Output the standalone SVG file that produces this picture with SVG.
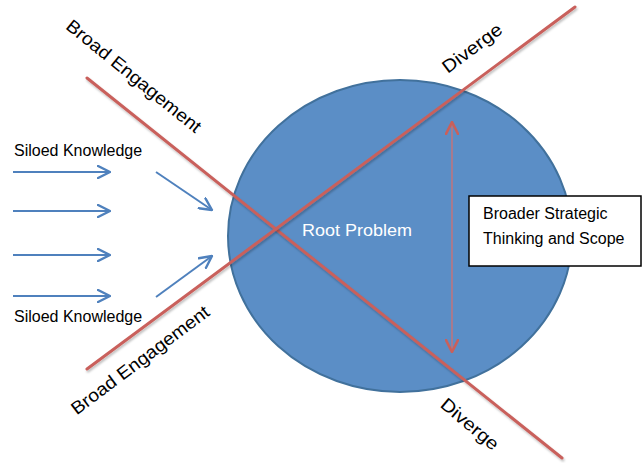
<svg xmlns="http://www.w3.org/2000/svg" width="642" height="463" viewBox="0 0 642 463">
<style>
text{font-family:"Liberation Sans",Arial,sans-serif;fill:#000}
.lbl{font-size:16px}
.big{font-size:18px}
.red{stroke:#C9605B;stroke-width:3;fill:none;stroke-linecap:round}
.blue{stroke:#4F81BD;stroke-width:2;fill:none}
</style>
<defs>
<marker id="ah" viewBox="0 0 14 14" refX="13" refY="7" markerWidth="14" markerHeight="14" markerUnits="userSpaceOnUse" orient="auto">
<path d="M1,1 L13,7 L1,13" fill="none" stroke="#4F81BD" stroke-width="2.4" stroke-linecap="round" stroke-linejoin="round"/>
</marker>
<marker id="rh" viewBox="0 0 14 14" refX="13" refY="7" markerWidth="14" markerHeight="14" markerUnits="userSpaceOnUse" orient="auto-start-reverse">
<path d="M1,1 L13,7 L1,13" fill="none" stroke="#C9605B" stroke-width="2.6" stroke-linecap="round" stroke-linejoin="round"/>
</marker>
<filter id="sh" x="-10%" y="-10%" width="120%" height="120%">
<feDropShadow dx="1" dy="2" stdDeviation="1.2" flood-color="#000" flood-opacity="0.25"/>
</filter>
</defs>
<g id="root-problem">
<ellipse cx="400" cy="236" rx="172" ry="156" fill="#5B8EC6" stroke="#41719C" stroke-width="2"/>
<text x="302" y="236" font-size="17" textLength="110" lengthAdjust="spacingAndGlyphs" style="fill:#fff">Root Problem</text>
</g>
<g id="connectors">
<line class="red" x1="87" y1="78" x2="562" y2="458" filter="url(#sh)"/>
<line class="red" x1="87" y1="369" x2="575" y2="7" filter="url(#sh)"/>
<line x1="452" y1="122" x2="452" y2="352" stroke="#A87A8E" stroke-width="2" marker-start="url(#rh)" marker-end="url(#rh)"/>
<line class="blue" x1="13" y1="172" x2="110" y2="172" marker-end="url(#ah)"/>
<line class="blue" x1="13" y1="211" x2="110" y2="211" marker-end="url(#ah)"/>
<line class="blue" x1="13" y1="255" x2="110" y2="255" marker-end="url(#ah)"/>
<line class="blue" x1="13" y1="296" x2="110" y2="296" marker-end="url(#ah)"/>
<line class="blue" x1="156" y1="172" x2="212" y2="210" marker-end="url(#ah)"/>
<line class="blue" x1="156" y1="297" x2="212" y2="256" marker-end="url(#ah)"/>
</g>
<g id="scope-box">
<rect x="469" y="196" width="172" height="70" fill="#fff" stroke="#000" stroke-width="1.5"/>
<text class="lbl" x="483" y="219">Broader Strategic</text>
<text class="lbl" x="483" y="244">Thinking and Scope</text>
</g>
<g id="labels">
<text class="lbl" x="14" y="156">Siloed Knowledge</text>
<text class="lbl" x="14" y="322">Siloed Knowledge</text>
<text class="big" transform="translate(134,76) rotate(39)" text-anchor="middle" dy="0.35em" textLength="168" lengthAdjust="spacingAndGlyphs">Broad Engagement</text>
<text class="big" transform="translate(140,360) rotate(-37)" text-anchor="middle" dy="0.35em" textLength="168" lengthAdjust="spacingAndGlyphs">Broad Engagement</text>
<text class="big" transform="translate(472,48) rotate(-37)" text-anchor="middle" dy="0.35em" textLength="70" lengthAdjust="spacingAndGlyphs">Diverge</text>
<text class="big" transform="translate(470,424) rotate(40)" text-anchor="middle" dy="0.35em" textLength="70" lengthAdjust="spacingAndGlyphs">Diverge</text>
</g>
</svg>
